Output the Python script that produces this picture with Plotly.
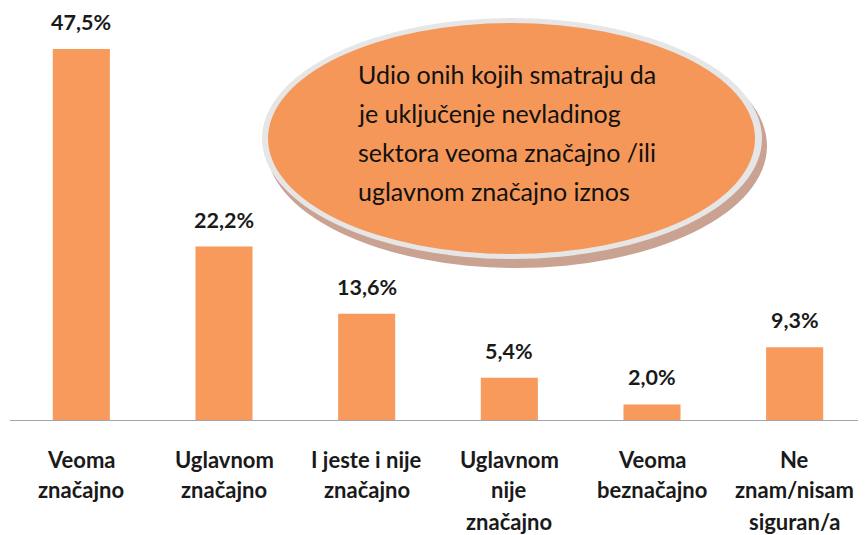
import plotly.graph_objects as go

# podaci
kategorije = ['Veoma<br>značajno', 'Uglavnom<br>značajno', 'I jeste i nije<br>značajno',
              'Uglavnom<br>nije<br>značajno', 'Veoma<br>beznačajno', 'Ne<br>znam/nisam<br>siguran/a']
procenti = [47.5, 22.2, 13.6, 5.4, 2.0, 9.3]
oznake = ['47,5%', '22,2%', '13,6%', '5,4%', '2,0%', '9,3%']
tekst_elipse = ['Udio onih kojih smatraju da', 'je uključenje nevladinog',
                'sektora veoma značajno /ili', 'uglavnom značajno iznos']

NARANDZASTA = '#F79A5B'
FONT = 'Lato'

# stranica ima marginu od 8px, pa je slika pomjerena
OFF = 8
W, H = 866 - OFF, 535 - OFF
L, R, T, B = 10 - OFF, 0, 0, 535 - 420
PW, PH = W - L - R, H - T - B


def px(x):
    return (x - OFF - L) / PW


def py(y):
    return (H - B - (y - OFF)) / PH


fig = go.Figure()

fig.add_trace(go.Bar(
    x=kategorije,
    y=procenti,
    marker=dict(color=NARANDZASTA, line=dict(width=0)),
    hoverinfo='skip'
))

annotations = []

# vrijednosti iznad stubova
for k, v, t in zip(kategorije, procenti, oznake):
    annotations.append(dict(
        x=k, y=v, xref='x', yref='y', text='<b>%s</b>' % t,
        showarrow=False, yanchor='middle', yshift=27,
        font=dict(family=FONT, size=21.5, color='#1a1a1a')
    ))

# nazivi kategorija (ručno zbog proreda)
for i, k in enumerate(kategorije):
    for j, red in enumerate(k.split('<br>')):
        annotations.append(dict(
            x=k, xref='x', yref='paper', y=py(459 + j * 31), text='<b>%s</b>' % red,
            showarrow=False, yanchor='middle', xanchor='center',
            font=dict(family=FONT, size=22, color='#1a1a1a')
        ))

# tekst u elipsi
for j, red in enumerate(tekst_elipse):
    annotations.append(dict(
        x=px(356), y=py(74 + j * 39), xref='paper', yref='paper', text=red,
        showarrow=False, xanchor='left', yanchor='middle',
        font=dict(family=FONT, size=25, color='#111111')
    ))

shapes = [
    # sjena
    dict(type='circle', xref='paper', yref='paper', layer='above',
         x0=px(266), x1=px(767), y0=py(268), y1=py(24),
         fillcolor='#C9A292', line=dict(width=0)),
    # sivi rub
    dict(type='circle', xref='paper', yref='paper', layer='above',
         x0=px(262), x1=px(762), y0=py(259), y1=py(18),
         fillcolor='#E6E6E6', line=dict(width=0)),
    # elipsa
    dict(type='circle', xref='paper', yref='paper', layer='above',
         x0=px(268), x1=px(755), y0=py(254), y1=py(23),
         fillcolor='#F59758', line=dict(width=0)),
]

fig.update_layout(
    width=W, height=H,
    margin=dict(l=L, r=R, t=T, b=B),
    paper_bgcolor='white',
    plot_bgcolor='white',
    bargap=0.6,
    showlegend=False,
    xaxis=dict(showline=True, linecolor='#A6A6A6', linewidth=1, showticklabels=False,
               showgrid=False, ticks='', zeroline=False),
    yaxis=dict(range=[0, PH / 7.81], visible=False, showgrid=False),
    annotations=annotations,
    shapes=shapes,
    font=dict(family=FONT)
)

fig.write_html('out.html')
